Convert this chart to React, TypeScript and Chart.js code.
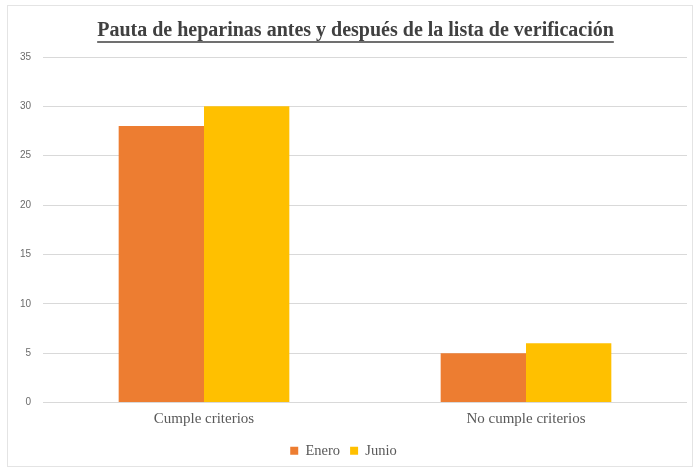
import React, { useEffect, useRef } from "react";
import { Chart, registerables } from "chart.js";

Chart.register(...registerables);

const categories = ["Cumple criterios", "No cumple criterios"];
const seriesNames = ["Enero", "Junio"];
const eneroValues = [28, 5];
const junioValues = [30, 6];
const titleText = "Pauta de heparinas antes y después de la lista de verificación";

const TITLE_SIZE = 20;
const TITLE_FONT = `bold ${TITLE_SIZE}px 'Liberation Serif', 'Times New Roman', serif`;
const TITLE_SHIFT = 12;

const titlePlugin = {
  id: "underlinedTitle",
  afterDraw(chart: any) {
    const tb = chart.titleBlock;
    if (!tb) return;
    const ctx = chart.ctx;
    ctx.save();
    ctx.font = TITLE_FONT;
    const w = ctx.measureText(titleText).width;
    const cx = (tb.left + tb.right) / 2 + TITLE_SHIFT;
    const padTop = tb.options.padding.top || 0;
    const padBottom = tb.options.padding.bottom || 0;
    const cy = tb.top + padTop + (tb.height - padTop - padBottom) / 2;
    ctx.fillStyle = "#404040";
    ctx.textAlign = "center";
    ctx.textBaseline = "middle";
    ctx.fillText(titleText, cx, cy);
    const y = tb.top + tb.height - padBottom - 1;
    ctx.strokeStyle = "#404040";
    ctx.lineWidth = 1.5;
    ctx.beginPath();
    ctx.moveTo(cx - w / 2, y);
    ctx.lineTo(cx + w / 2, y);
    ctx.stroke();
    ctx.restore();
  },
};

export default function App() {
  const ref = useRef<HTMLCanvasElement>(null);
  useEffect(() => {
    if (!ref.current) return;
    const chart = new Chart(ref.current, {
      type: "bar",
      data: {
        labels: categories,
        datasets: [
          { label: seriesNames[0], data: eneroValues, backgroundColor: "#ED7D31", borderWidth: 0 },
          { label: seriesNames[1], data: junioValues, backgroundColor: "#FFC000", borderWidth: 0 },
        ],
      },
      options: {
        animation: false,
        responsive: false,
        layout: { padding: { left: 0, right: 8, top: 7, bottom: 2 } },
        datasets: { bar: { categoryPercentage: 0.53, barPercentage: 1 } },
        plugins: {
          title: {
            display: true,
            text: titleText,
            color: "rgba(0,0,0,0)",
            font: { family: "'Liberation Serif', 'Times New Roman', serif", size: TITLE_SIZE, weight: "bold" },
            padding: { top: 12, bottom: 14 },
          },
          legend: {
            position: "bottom",
            labels: {
              boxWidth: 8,
              boxHeight: 8,
              color: "#595959",
              padding: 10,
              font: { family: "'Liberation Serif', 'Times New Roman', serif", size: 14.5 },
            },
          },
          tooltip: { enabled: false },
        },
        scales: {
          x: {
            grid: { display: false },
            border: { display: false },
            ticks: {
              color: "#595959",
              font: { family: "'Liberation Serif', 'Times New Roman', serif", size: 15 },
              padding: 0,
            },
            afterFit(scale: any) {
              scale.height += 5;
            },
          },
          y: {
            min: 0,
            max: 35,
            ticks: {
              stepSize: 5,
              color: "#6b6b6b",
              font: { family: "'Liberation Sans', Arial, sans-serif", size: 10 },
              padding: 12,
            },
            grid: { color: "#d9d9d9", drawTicks: false },
            border: { display: false },
            afterFit(scale: any) {
              scale.width = 43;
            },
          },
        },
      },
      plugins: [titlePlugin],
    });
    return () => chart.destroy();
  }, []);
  return (
    <div style={{ position: "fixed", left: 0, top: 0, width: 695, height: 470, background: "#fff" }}>
      <canvas ref={ref} width={695} height={470} style={{ position: "absolute", left: 0, top: 0 }} />
      <div
        style={{
          position: "absolute",
          left: 7,
          top: 5,
          width: 686,
          height: 462,
          border: "1px solid #e4e4e4",
          boxSizing: "border-box",
          pointerEvents: "none",
        }}
      />
    </div>
  );
}
